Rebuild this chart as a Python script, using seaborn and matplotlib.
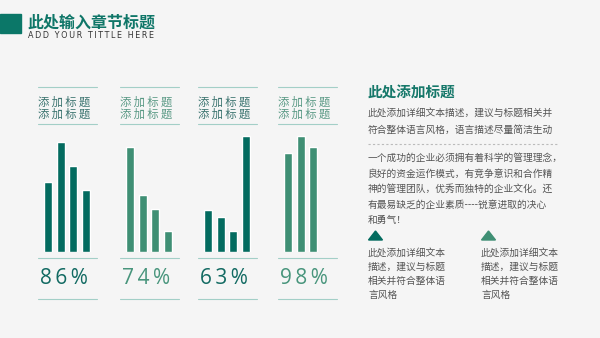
import matplotlib.pyplot as plt
import seaborn as sns
from matplotlib.lines import Line2D
from matplotlib.patches import Polygon, Rectangle

sns.set_theme(style="white")
plt.rcParams['font.family'] = ['Noto Sans CJK SC', 'DejaVu Sans']

# datos
grupo1 = [70, 110, 86, 62]
grupo2 = [105, 57, 43, 21]
grupo3 = [42, 35, 21, 116]
grupo4 = [99, 116, 105]
porcentajes = ["86%", "74%", "63%", "98%"]
titulo_barra = "添加标题"

titulo = "此处输入章节标题"
subtitulo = "ADD YOUR TITTLE HERE"
titulo_der = "此处添加标题"
intro = ["此处添加详细文本描述，建议与标题相关并",
         "符合整体语言风格，语言描述尽量简洁生动"]
parrafo = ["一个成功的企业必须拥有着科学的管理理念，",
           "良好的资金运作模式，有竞争意识和合作精",
           "神的管理团队，优秀而独特的企业文化。还",
           "有最易缺乏的企业素质----锐意进取的决心",
           "和勇气！"]
nota = ["此处添加详细文本", "描述，建议与标题", "相关并符合整体语", "言风格"]

oscuro = "#036b5f"
claro = "#3f8f74"
fondo = "#f5f5f5"

W, H = 600, 338
fig = plt.figure(figsize=(6, 3.38), dpi=100, facecolor=fondo)


def fx(x):
    return x / W


def fy(y):
    return 1 - y / H


def linea(x0, x1, y, color, ls="-", lw=0.8):
    fig.add_artist(Line2D([fx(x0), fx(x1)], [fy(y), fy(y)], color=color,
                          lw=lw, ls=ls, transform=fig.transFigure))


# encabezado
fig.add_artist(Rectangle((0, fy(33)), fx(20.5), 19 / H, color="#0b7768",
                         transform=fig.transFigure))
fig.text(fx(27), fy(23), titulo, fontsize=11.5, fontweight="bold",
         color="#0f7668", va="center")
fig.text(fx(28), fy(36), "\u2009".join(subtitulo), fontsize=5.8,
         color="#333333", va="center", family=["DejaVu Sans"])

# grupos de barras
grupos = [grupo1, grupo2, grupo3, grupo4]
colores = [oscuro, claro, oscuro, claro]
colores_txt = ["#3c7470", "#5b9a86", "#3c7470", "#5b9a86"]
colores_pct = ["#126a62", "#48957c", "#126a62", "#48957c"]
izq = [37.5, 119.5, 197.5, 277.5]
ancho = 59

for vals, col, ctx, cpc, x0, pct in zip(grupos, colores, colores_txt,
                                        colores_pct, izq, porcentajes):
    ax = fig.add_axes([fx(x0), fy(251.7), ancho / W, 120 / H])
    cats = [str(i) for i in range(len(vals))]
    sns.barplot(x=cats, y=vals, ax=ax, color=col, width=0.63, saturation=1)
    ax.set_xlim(-0.85, 3.85)
    ax.set_ylim(0, 120)
    ax.axis("off")

    for y in [87.3, 124, 258.3, 299]:
        linea(x0, x0 + ancho, y, "#a3cfc7")
    for y in [101.7, 114.3]:
        fig.text(fx(x0), fy(y), "\u2009".join(titulo_barra), fontsize=8.2,
                 color=ctx, va="center")
    fig.text(fx(x0 + ancho / 2 - 3), fy(279), "\u2009".join(pct),
             fontsize=15, color=cpc, ha="center", va="center",
             family=["Open Sans", "DejaVu Sans"])

# columna derecha
fig.text(fx(368), fy(92.7), titulo_der, fontsize=10.5, fontweight="bold",
         color="#16786a", va="center")
for i, t in enumerate(intro):
    fig.text(fx(368), fy(112.3 + i * 17.7), t, fontsize=7, color="#555555",
             va="center")
linea(368, 559, 144.3, "#bbbbbb", ls=(0, (2, 2)))
for i, t in enumerate(parrafo):
    fig.text(fx(368), fy(158.3 + i * 15.5), t, fontsize=7, color="#555555",
             va="center")

for xc, col in [(375.5, oscuro), (488.5, claro)]:
    fig.add_artist(Polygon([(fx(xc), fy(231)), (fx(xc - 7), fy(240)),
                            (fx(xc + 7), fy(240))], closed=True, color=col,
                           transform=fig.transFigure))
    for i, t in enumerate(nota):
        fig.text(fx(xc - 7.5), fy(252.5 + i * 14.2), t, fontsize=7,
                 color="#555555", va="center")

plt.savefig("out.png", dpi=100, facecolor=fondo)
